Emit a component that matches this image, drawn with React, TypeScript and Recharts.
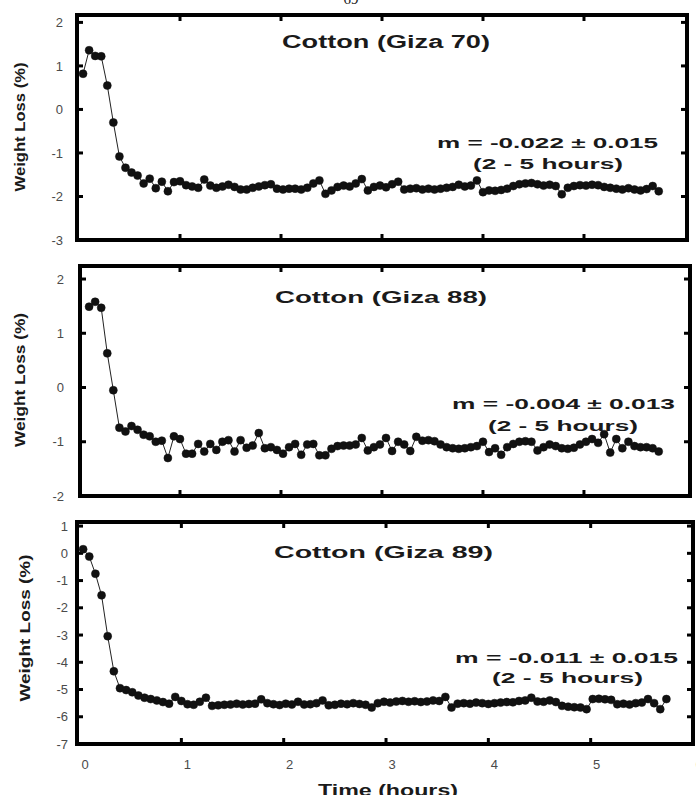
import React from "react";
import { LineChart, Line, XAxis, YAxis, ReferenceArea } from "recharts";

// sampling times (hours), shared by the three runs
const TIME = [
  0.04, 0.1, 0.16, 0.22, 0.28, 0.34, 0.4, 0.46, 0.52, 0.58,
  0.64, 0.7, 0.76, 0.82, 0.88, 0.94, 1.0, 1.06, 1.12, 1.18,
  1.24, 1.3, 1.36, 1.42, 1.48, 1.54, 1.6, 1.66, 1.72, 1.78,
  1.84, 1.9, 1.96, 2.02, 2.08, 2.14, 2.2, 2.26, 2.32, 2.38,
  2.44, 2.5, 2.56, 2.62, 2.68, 2.74, 2.8, 2.86, 2.92, 2.98,
  3.04, 3.1, 3.16, 3.22, 3.28, 3.34, 3.4, 3.46, 3.52, 3.58,
  3.64, 3.7, 3.76, 3.82, 3.88, 3.94, 4.0, 4.06, 4.12, 4.18,
  4.24, 4.3, 4.36, 4.42, 4.48, 4.54, 4.6, 4.66, 4.72, 4.78,
  4.84, 4.9, 4.96, 5.02, 5.08, 5.14, 5.2, 5.26, 5.32, 5.38,
  5.44, 5.5, 5.56, 5.62, 5.68, 5.74,
];

const GIZA70 = [
  0.82, 1.36, 1.23, 1.22, 0.55, -0.3, -1.08, -1.34, -1.45, -1.52,
  -1.7, -1.59, -1.81, -1.66, -1.88, -1.67, -1.65, -1.74, -1.77, -1.8,
  -1.61, -1.75, -1.8, -1.77, -1.73, -1.78, -1.84, -1.84, -1.8, -1.77,
  -1.74, -1.72, -1.82, -1.84, -1.82, -1.82, -1.84, -1.8, -1.7, -1.63,
  -1.94, -1.86, -1.78, -1.75, -1.77, -1.7, -1.6, -1.86, -1.78, -1.75,
  -1.79, -1.72, -1.66, -1.84, -1.82, -1.81, -1.84, -1.82, -1.84, -1.82,
  -1.8, -1.78, -1.73, -1.77, -1.75, -1.63, -1.9, -1.86, -1.87, -1.85,
  -1.82, -1.76, -1.72, -1.7, -1.69, -1.72, -1.75, -1.73, -1.76, -1.95,
  -1.8, -1.76, -1.74, -1.75, -1.73, -1.74, -1.78, -1.8, -1.82, -1.84,
  -1.81, -1.84, -1.86, -1.83, -1.76, -1.88,
];

const GIZA88 = [
  null, 1.49, 1.58, 1.47, 0.63, -0.05, -0.74, -0.81, -0.71, -0.78,
  -0.87, -0.9, -1.0, -0.98, -1.3, -0.9, -0.95, -1.22, -1.22, -1.04,
  -1.18, -1.04, -1.15, -1.0, -0.97, -1.18, -0.97, -1.11, -1.07, -0.84,
  -1.12, -1.1, -1.15, -1.22, -1.1, -1.04, -1.24, -1.05, -1.04, -1.25,
  -1.25, -1.13, -1.08, -1.07, -1.07, -1.05, -0.93, -1.16, -1.1, -1.05,
  -0.93, -1.17, -1.0, -1.05, -1.17, -0.91, -0.98, -0.97, -0.99, -1.05,
  -1.1, -1.12, -1.13, -1.12, -1.1, -1.08, -1.0, -1.19, -1.12, -1.24,
  -1.1, -1.04, -1.0, -0.99, -1.0, -1.16, -1.1, -1.05, -1.08, -1.12,
  -1.13, -1.11, -1.05, -1.0, -0.95, -1.02, -0.86, -1.2, -0.95, -1.12,
  -1.0, -1.08, -1.1, -1.1, -1.12, -1.18,
];

const GIZA89 = [
  0.15, -0.12, -0.75, -1.54, -3.04, -4.33, -4.95, -5.02, -5.1, -5.22,
  -5.3, -5.35, -5.4, -5.46, -5.52, -5.27, -5.42, -5.54, -5.56, -5.45,
  -5.3, -5.6, -5.58, -5.56, -5.55, -5.52, -5.55, -5.53, -5.52, -5.36,
  -5.5, -5.54, -5.57, -5.52, -5.55, -5.45, -5.55, -5.54, -5.5, -5.4,
  -5.58, -5.56, -5.52, -5.54, -5.5, -5.53, -5.56, -5.66, -5.5, -5.45,
  -5.48, -5.44, -5.42, -5.45, -5.43, -5.46, -5.44, -5.4, -5.42, -5.27,
  -5.66, -5.52, -5.5, -5.52, -5.48, -5.5, -5.53, -5.5, -5.48, -5.46,
  -5.47, -5.42, -5.4, -5.3, -5.44, -5.45, -5.4, -5.46, -5.6, -5.63,
  -5.65, -5.66, -5.72, -5.35, -5.34, -5.36, -5.38, -5.54, -5.52, -5.55,
  -5.5, -5.48, -5.35, -5.5, -5.72, -5.35,
];

const X_TICKS = [1, 2, 3, 4, 5];
const X_LABELS = [0, 1, 2, 3, 4, 5, 6];
const Y_TICKS_70 = [-3, -2, -1, 0, 1, 2];
const Y_TICKS_88 = [-2, -1, 0, 1, 2];
const Y_TICKS_89 = [-7, -6, -5, -4, -3, -2, -1, 0, 1];

const TITLES = ["Cotton (Giza 70)", "Cotton (Giza 88)", "Cotton (Giza 89)"];
const SLOPES = ["m = -0.022 ± 0.015", "m = -0.004 ± 0.013", "m = -0.011 ± 0.015"];
const RANGE_NOTE = "(2 - 5 hours)";
const Y_LABEL = "Weight Loss (%)";
const X_LABEL = "Time (hours)";

const W = 696;
const H = 795;
const FONT = "'Liberation Sans', Arial, Helvetica, sans-serif";
const TICK = { stroke: "#000", strokeWidth: 3 };

type Box = { l: number; t: number; r: number; b: number };

const XTick = (props: any) => {
  const { x, y, payload } = props;
  return (
    <text x={x + 6} y={y} dy="0.71em" textAnchor="middle" fill="#4a4a4a" fontSize={13} fontFamily={FONT}>
      {payload.value}
    </text>
  );
};

// tick marks only, no label
const NoLabel = () => <g />;

const Panel = ({
  values,
  yTicks,
  yDomain,
  xDomain,
  box,
  gap,
  showX,
}: {
  values: (number | null)[];
  yTicks: number[];
  yDomain: [number, number];
  xDomain: [number, number];
  box: Box;
  gap: number;
  showX?: boolean;
}) => {
  const rows = TIME.map((t, i) => ({ t, v: values[i] })).filter((d) => d.v != null);
  const labelH = 40;
  return (
    <div style={{ position: "absolute", left: 0, top: 0 }}>
      <LineChart
        width={W}
        height={H}
        data={rows}
        margin={{ top: box.t, right: W - box.r, bottom: H - box.b - (showX ? labelH : 0), left: 0 }}
      >
        {/* inward tick marks on all four sides */}
        <XAxis xAxisId="b" type="number" dataKey="t" domain={xDomain} allowDataOverflow ticks={X_TICKS}
          orientation="bottom" mirror height={1} tick={<NoLabel />} tickSize={6} tickLine={TICK} axisLine={false} />
        <XAxis xAxisId="t" type="number" dataKey="t" domain={xDomain} allowDataOverflow ticks={X_TICKS}
          orientation="top" mirror height={1} tick={<NoLabel />} tickSize={6} tickLine={TICK} axisLine={false} />
        {showX && (
          <XAxis xAxisId="lbl" type="number" dataKey="t" domain={xDomain} allowDataOverflow ticks={X_LABELS}
            interval={0} orientation="bottom" height={labelH} tickSize={0} tickMargin={16}
            tickLine={false} axisLine={false} tick={<XTick />} />
        )}
        <YAxis yAxisId="l" type="number" domain={yDomain} allowDataOverflow ticks={yTicks} interval={0}
          orientation="left" width={box.l} tickSize={0} tickMargin={gap} tickLine={false} axisLine={false}
          tick={{ fill: "#4a4a4a", fontSize: 13, fontFamily: FONT }} />
        <YAxis yAxisId="lm" type="number" domain={yDomain} allowDataOverflow ticks={yTicks} interval={0}
          orientation="left" mirror width={1} tick={<NoLabel />} tickSize={6} tickLine={TICK} axisLine={false} />
        <YAxis yAxisId="r" type="number" domain={yDomain} allowDataOverflow ticks={yTicks} interval={0}
          orientation="right" mirror width={1} tick={<NoLabel />} tickSize={6} tickLine={TICK} axisLine={false} />
        {/* heavy box around the plot */}
        <ReferenceArea xAxisId="b" yAxisId="l" x1={xDomain[0]} x2={xDomain[1]} y1={yDomain[0]} y2={yDomain[1]}
          fill="none" fillOpacity={0} stroke="#000" strokeWidth={4} strokeOpacity={1} ifOverflow="visible" />
        <Line
          xAxisId="b"
          yAxisId="l"
          type="linear"
          dataKey="v"
          stroke="#222"
          strokeWidth={1}
          dot={{ r: 4, fill: "#111", stroke: "#111", strokeWidth: 0.5 }}
          isAnimationActive={false}
        />
      </LineChart>
    </div>
  );
};

const Annotations = () => {
  const bold = { fontFamily: FONT, fontWeight: 700, fill: "#1a1a1a" } as const;
  const adj = "spacingAndGlyphs" as const;
  return (
    <svg width={W} height={H} style={{ position: "absolute", left: 0, top: 0, pointerEvents: "none" }}>
      <text x={351} y={3.5} textAnchor="middle" fontFamily="'Liberation Serif', serif" fontSize={15} fill="#222">
        69
      </text>

      <text x={282} y={48} fontSize={18} textLength={208} lengthAdjust={adj} {...bold}>{TITLES[0]}</text>
      <text x={437} y={148} fontSize={15} textLength={221} lengthAdjust={adj} {...bold}>{SLOPES[0]}</text>
      <text x={473} y={169} fontSize={15} textLength={150} lengthAdjust={adj} {...bold}>{RANGE_NOTE}</text>
      <text transform="translate(25,127) rotate(-90)" textAnchor="middle" fontSize={15} textLength={129} lengthAdjust={adj} {...bold}>
        {Y_LABEL}
      </text>

      <text x={275} y={303} fontSize={17} textLength={212} lengthAdjust={adj} {...bold}>{TITLES[1]}</text>
      <text x={452} y={409} fontSize={15} textLength={223} lengthAdjust={adj} {...bold}>{SLOPES[1]}</text>
      <text x={488} y={431} fontSize={15} textLength={150} lengthAdjust={adj} {...bold}>{RANGE_NOTE}</text>
      <text transform="translate(25,380) rotate(-90)" textAnchor="middle" fontSize={15} textLength={134} lengthAdjust={adj} {...bold}>
        {Y_LABEL}
      </text>

      <text x={274} y={558} fontSize={17} textLength={219} lengthAdjust={adj} {...bold}>{TITLES[2]}</text>
      <text x={455} y={663} fontSize={15} textLength={223} lengthAdjust={adj} {...bold}>{SLOPES[2]}</text>
      <text x={492} y={683} fontSize={15} textLength={151} lengthAdjust={adj} {...bold}>{RANGE_NOTE}</text>
      <text transform="translate(30,628) rotate(-90)" textAnchor="middle" fontSize={15} textLength={147} lengthAdjust={adj} {...bold}>
        {Y_LABEL}
      </text>

      <text x={318} y={796} fontSize={17} textLength={140} lengthAdjust={adj} {...bold}>{X_LABEL}</text>
    </svg>
  );
};

export default function App() {
  return (
    <div style={{ position: "absolute", left: 0, top: 0, width: W, height: H, background: "#fff", overflow: "hidden" }}>
      <Panel values={GIZA70} yTicks={Y_TICKS_70} yDomain={[-3, 2.17]} xDomain={[-0.02, 6.02]}
        box={{ l: 77, t: 15, r: 687, b: 240 }} gap={14} />
      <Panel values={GIZA88} yTicks={Y_TICKS_88} yDomain={[-2, 2.24]} xDomain={[0.01, 6.05]}
        box={{ l: 80, t: 266, r: 690, b: 496 }} gap={16} />
      <Panel values={GIZA89} yTicks={Y_TICKS_89} yDomain={[-7, 1.15]} xDomain={[-0.02, 6.0]}
        box={{ l: 77, t: 522, r: 693, b: 744 }} gap={9} showX />
      <Annotations />
    </div>
  );
}
